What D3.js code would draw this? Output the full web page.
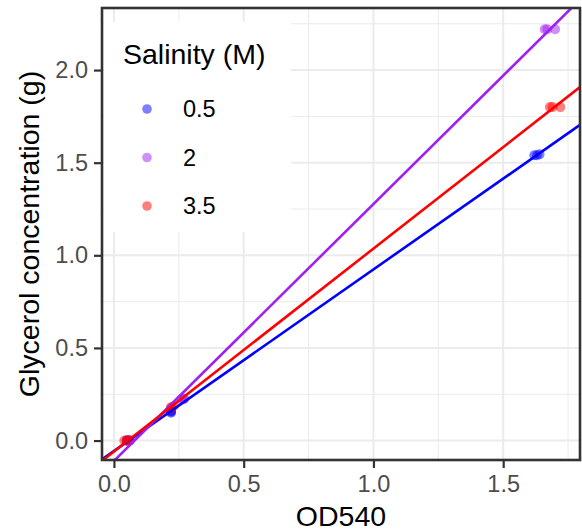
<!DOCTYPE html>
<html>
<head>
<meta charset="utf-8">
<script src="https://cdn.jsdelivr.net/npm/d3@7"></script>
<style>
  html, body { margin: 0; padding: 0; background: #fff; }
  svg { display: block; font-family: "Liberation Sans", Arial, sans-serif; }
</style>
</head>
<body>
<svg id="chart" width="582" height="531"></svg>
<script>
// Glycerol standard curves by salinity (three replicates per standard)
const salinity = ["0.5", "2", "3.5"];
const colors = ["#0000FF", "#A020F0", "#FF0000"];

const od05 = [0.05, 0.05, 0.06, 0.22, 0.22, 0.22, 1.62, 1.63, 1.64];
const gly05 = [0, 0, 0, 0.15, 0.155, 0.16, 1.54, 1.54, 1.545];
const od2 = [0.05, 0.06, 0.06, 0.26, 0.27, 0.27, 1.66, 1.67, 1.70];
const gly2 = [0, 0, 0, 0.22, 0.225, 0.225, 2.22, 2.22, 2.22];
const od35 = [0.04, 0.05, 0.06, 0.22, 0.22, 0.23, 1.68, 1.69, 1.72];
const gly35 = [0, 0, 0, 0.175, 0.18, 0.185, 1.80, 1.80, 1.80];

const xTicks = [0, 0.5, 1.0, 1.5];
const yTicks = [0, 0.5, 1.0, 1.5, 2.0];
const xMinor = [0.25, 0.75, 1.25, 1.75];
const yMinor = [0.25, 0.75, 1.25, 1.75, 2.25];

const series = [
  { key: salinity[0], color: colors[0], x: od05, y: gly05 },
  { key: salinity[1], color: colors[1], x: od2, y: gly2 },
  { key: salinity[2], color: colors[2], x: od35, y: gly35 }
];

const panel = { left: 102, right: 580, top: 8, bottom: 460 };
const x = d3.scaleLinear().domain([-0.046, 1.796]).range([panel.left, panel.right]);
const y = d3.scaleLinear().domain([-0.105, 2.335]).range([panel.bottom, panel.top]);

const svg = d3.select("#chart");

svg.append("defs").append("clipPath").attr("id", "clip")
  .append("rect")
  .attr("x", panel.left).attr("y", panel.top)
  .attr("width", panel.right - panel.left).attr("height", panel.bottom - panel.top);

// grid
const grid = svg.append("g");
grid.selectAll(".xmin").data(xMinor).join("line")
  .attr("x1", d => x(d)).attr("x2", d => x(d))
  .attr("y1", panel.top).attr("y2", panel.bottom)
  .attr("stroke", "#ebebeb").attr("stroke-width", 1);
grid.selectAll(".ymin").data(yMinor.filter(d => y(d) > panel.top)).join("line")
  .attr("y1", d => y(d)).attr("y2", d => y(d))
  .attr("x1", panel.left).attr("x2", panel.right)
  .attr("stroke", "#ebebeb").attr("stroke-width", 1);
grid.selectAll(".xmaj").data(xTicks).join("line")
  .attr("x1", d => x(d)).attr("x2", d => x(d))
  .attr("y1", panel.top).attr("y2", panel.bottom)
  .attr("stroke", "#ebebeb").attr("stroke-width", 2);
grid.selectAll(".ymaj").data(yTicks).join("line")
  .attr("y1", d => y(d)).attr("y2", d => y(d))
  .attr("x1", panel.left).attr("x2", panel.right)
  .attr("stroke", "#ebebeb").attr("stroke-width", 2);

// least-squares fit
function fit(xs, ys) {
  const mx = d3.mean(xs), my = d3.mean(ys);
  let sxx = 0, sxy = 0;
  xs.forEach((v, i) => { sxx += (v - mx) * (v - mx); sxy += (v - mx) * (ys[i] - my); });
  const b = sxy / sxx;
  return { a: my - b * mx, b };
}

const plot = svg.append("g").attr("clip-path", "url(#clip)");

series.forEach(s => {
  const pts = s.x.map((v, i) => [v, s.y[i]]);
  plot.append("g").selectAll("circle").data(pts).join("circle")
    .attr("cx", d => x(d[0])).attr("cy", d => y(d[1]))
    .attr("r", 5)
    .attr("fill", s.color).attr("fill-opacity", 0.5);
});

series.forEach(s => {
  const f = fit(s.x, s.y);
  const [x0, x1] = x.domain();
  plot.append("line")
    .attr("x1", x(x0)).attr("y1", y(f.a + f.b * x0))
    .attr("x2", x(x1)).attr("y2", y(f.a + f.b * x1))
    .attr("stroke", s.color).attr("stroke-width", 2.6);
});

// legend
const lg = svg.append("g");
lg.append("rect").attr("x", 104).attr("y", 22).attr("width", 187).attr("height", 210).attr("fill", "#fff");
lg.append("text").attr("x", 123).attr("y", 64).attr("font-size", 28.5).attr("fill", "#000").text("Salinity (M)");
series.forEach((s, i) => {
  const cy = 109 + i * 48.5;
  lg.append("circle").attr("cx", 147).attr("cy", cy).attr("r", 4.8)
    .attr("fill", s.color).attr("fill-opacity", 0.5);
  lg.append("text").attr("x", 183).attr("y", cy).attr("dy", "0.36em")
    .attr("font-size", 23.5).attr("fill", "#000").text(s.key);
});

// panel border
svg.append("rect")
  .attr("x", panel.left).attr("y", panel.top)
  .attr("width", panel.right - panel.left).attr("height", panel.bottom - panel.top)
  .attr("fill", "none").attr("stroke", "#333").attr("stroke-width", 2.6);

// axes
const fmt = d3.format(".1f");
const xAxis = svg.append("g").attr("transform", `translate(0,${panel.bottom})`)
  .call(d3.axisBottom(x).tickValues(xTicks).tickFormat(fmt).tickSize(8).tickPadding(7));
const yAxis = svg.append("g").attr("transform", `translate(${panel.left},0)`)
  .call(d3.axisLeft(y).tickValues(yTicks).tickFormat(fmt).tickSize(8).tickPadding(6));
[xAxis, yAxis].forEach(a => {
  a.select(".domain").remove();
  a.selectAll(".tick line").attr("stroke", "#333").attr("stroke-width", 2.2);
  a.selectAll(".tick text").attr("fill", "#4d4d4d").attr("font-size", 23.5)
    .attr("font-family", "'Liberation Sans', Arial, sans-serif");
});

// axis titles
svg.append("text").attr("x", (panel.left + panel.right) / 2).attr("y", 526)
  .attr("text-anchor", "middle").attr("font-size", 28.5).attr("fill", "#000").text("OD540");
svg.append("text")
  .attr("transform", `translate(39,${(panel.top + panel.bottom) / 2}) rotate(-90)`)
  .attr("text-anchor", "middle").attr("font-size", 28.5).attr("fill", "#000")
  .text("Glycerol concentration (g)");
</script>
</body>
</html>
